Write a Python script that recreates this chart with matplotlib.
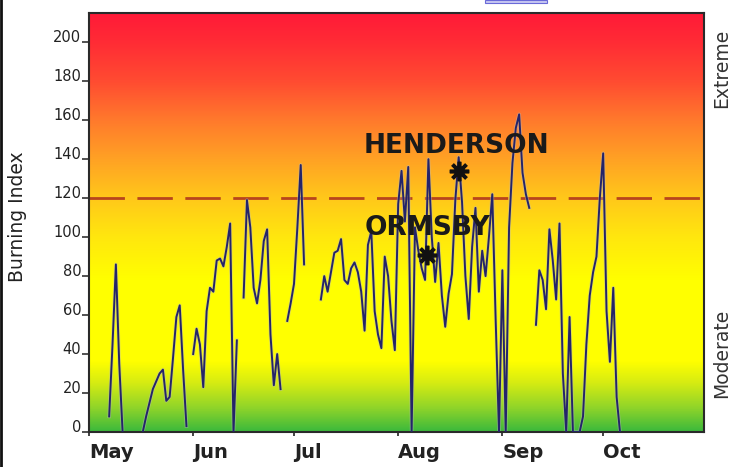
import numpy as np
import matplotlib
matplotlib.use("Agg")
import matplotlib.pyplot as plt
from matplotlib.colors import LinearSegmentedColormap
from matplotlib.patches import Rectangle
from matplotlib.lines import Line2D

# ---------------- data ----------------
# daily Burning Index, day 0 = May 1 (None = no observation)
bi_may = [None, None, None, None, None, None, 8, 45, 86, 35, 0,
          None, None, None, None, None, 0, 8, 15, 22, 26, 30, 32, 16, 18, 38, 59, 65, 32, 3, None]
bi_jun = [40, 53, 45, 23, 62, 74, 72, 88, 89, 85, 95, 107, 0, 47, None,
          69, 119, 105, 74, 66, 78, 98, 104, 50, 24, 40, 22, None, 57, 66]
bi_jul = [76, 105, 137, 86, None, None, None, None, 68, 80, 72, 82, 92, 93, 99, 78,
          76, 84, 87, 82, 72, 52, 96, 103, 62, 50, 43, 90, 80, 57, 42]
bi_aug = [117, 134, 108, 136, 0, 105, 93, 84, 78, 140, 100, 77, 97, 70, 54, 71,
          81, 119, 141, 118, 80, 58, 95, 115, 72, 93, 80, 100, 122, 58, 0]
bi_sep = [83, 0, 105, 138, 156, 163, 133, 122, 115, None, 55, 83, 78, 63, 104, 88,
          68, 107, 30, 0, 59, 0, 0, 0, 8, 45, 70, 82, 90, 120]
bi_oct = [143, 62, 36, 74, 18, 0] + [None] * 25

month_labels = ["May", "Jun", "Jul", "Aug", "Sep", "Oct"]
month_start_day = [0, 31, 61, 92, 123, 153]
y_ticks = [0, 20, 40, 60, 80, 100, 120, 140, 160, 180, 200]
threshold = 120

stations = ["HENDERSON", "ORMSBY"]
station_day = [110.2, 100.5]
station_bi = [134, 91]
label_day = [109.3, 100.6]
label_bi = [147, 104.5]

# ---------------- figure ----------------
plt.rcParams["lines.scale_dashes"] = False
fig = plt.figure(figsize=(7.31, 4.67), dpi=100)
ax = fig.add_axes([89 / 731, 35 / 467, 615 / 731, 419 / 467])

xmax, ymax = 183, 215

# gradient background
stops = [(0, "#3cb93c"), (12, "#8fd42a"), (25, "#d6ec12"), (36, "#ffff00"),
         (78, "#ffff00"), (100, "#ffe70e"), (120, "#ffc81a"), (140, "#ffa224"),
         (160, "#ff7a2c"), (180, "#ff4c31"), (200, "#ff2c35"), (215, "#ff1a38")]
cmap = LinearSegmentedColormap.from_list("bi", [(v / ymax, c) for v, c in stops])
grad = np.linspace(0, 1, 512).reshape(-1, 1)
ax.imshow(grad, extent=[0, xmax, 0, ymax], origin="lower", aspect="auto",
          cmap=cmap, zorder=0, interpolation="bilinear")

series = bi_may + bi_jun + bi_jul + bi_aug + bi_sep + bi_oct
vals = np.array([np.nan if v is None else v for v in series], dtype=float)
days = np.arange(len(vals))
ax.plot(days, vals, color="#b8b8c0", lw=2.6, alpha=0.45, zorder=2.5)
ax.plot(days, vals, color="#24246a", lw=1.4, zorder=3)

ax.axhline(threshold, color="#b8451c", lw=2, dashes=(25.5, 9), zorder=2)

for name, d, b, ld, lb in zip(stations, station_day, station_bi, label_day, label_bi):
    ax.plot([d], [b], marker=(8, 2, 0), ms=14, mew=2.6, color="#111111", zorder=5)
    ax.text(ld, lb, name, ha="center", va="center", fontsize=19, fontweight="bold",
            color="#1a1a1a", zorder=4)

ax.set_xlim(0, xmax)
ax.set_ylim(0, ymax)

ax.set_xticks(month_start_day)
ax.set_xticklabels(month_labels, ha="left", fontsize=14, fontweight="bold", color="#111111")
ax.tick_params(axis="x", direction="out", length=3, width=1.2, pad=5, colors="#222222")

ax.set_yticks(y_ticks)
ax.set_yticklabels([str(t) for t in y_ticks], va="baseline", fontsize=10.5, color="#222222")
ax.tick_params(axis="y", direction="out", length=5, width=1.1, pad=0.5, colors="#222222")

for s in ax.spines.values():
    s.set_color("#2a2a2a")
    s.set_linewidth(1.5)

fig.text(18 / 731, 1 - 217 / 467, "Burning Index", rotation=90, ha="center", va="center",
         fontsize=13.5, color="#222222")
fig.text(722 / 731, 1 - 68 / 467, "Extreme", rotation=90, ha="center", va="center",
         fontsize=13.5, color="#333333")
fig.text(722 / 731, 1 - 353 / 467, "Moderate", rotation=90, ha="center", va="center",
         fontsize=13.5, color="#333333")

# small clipped legend box at top and left frame line
fig.patches.append(Rectangle((485 / 731, 1 - 3 / 467), 62 / 731, 3 / 467,
                             transform=fig.transFigure, facecolor="#c8c8f2",
                             edgecolor="#6a6ad8", lw=0.8))
fig.lines.append(Line2D([1 / 731, 1 / 731], [0, 1], transform=fig.transFigure,
                        color="#111111", lw=2))

fig.savefig("out.png", dpi=100)
